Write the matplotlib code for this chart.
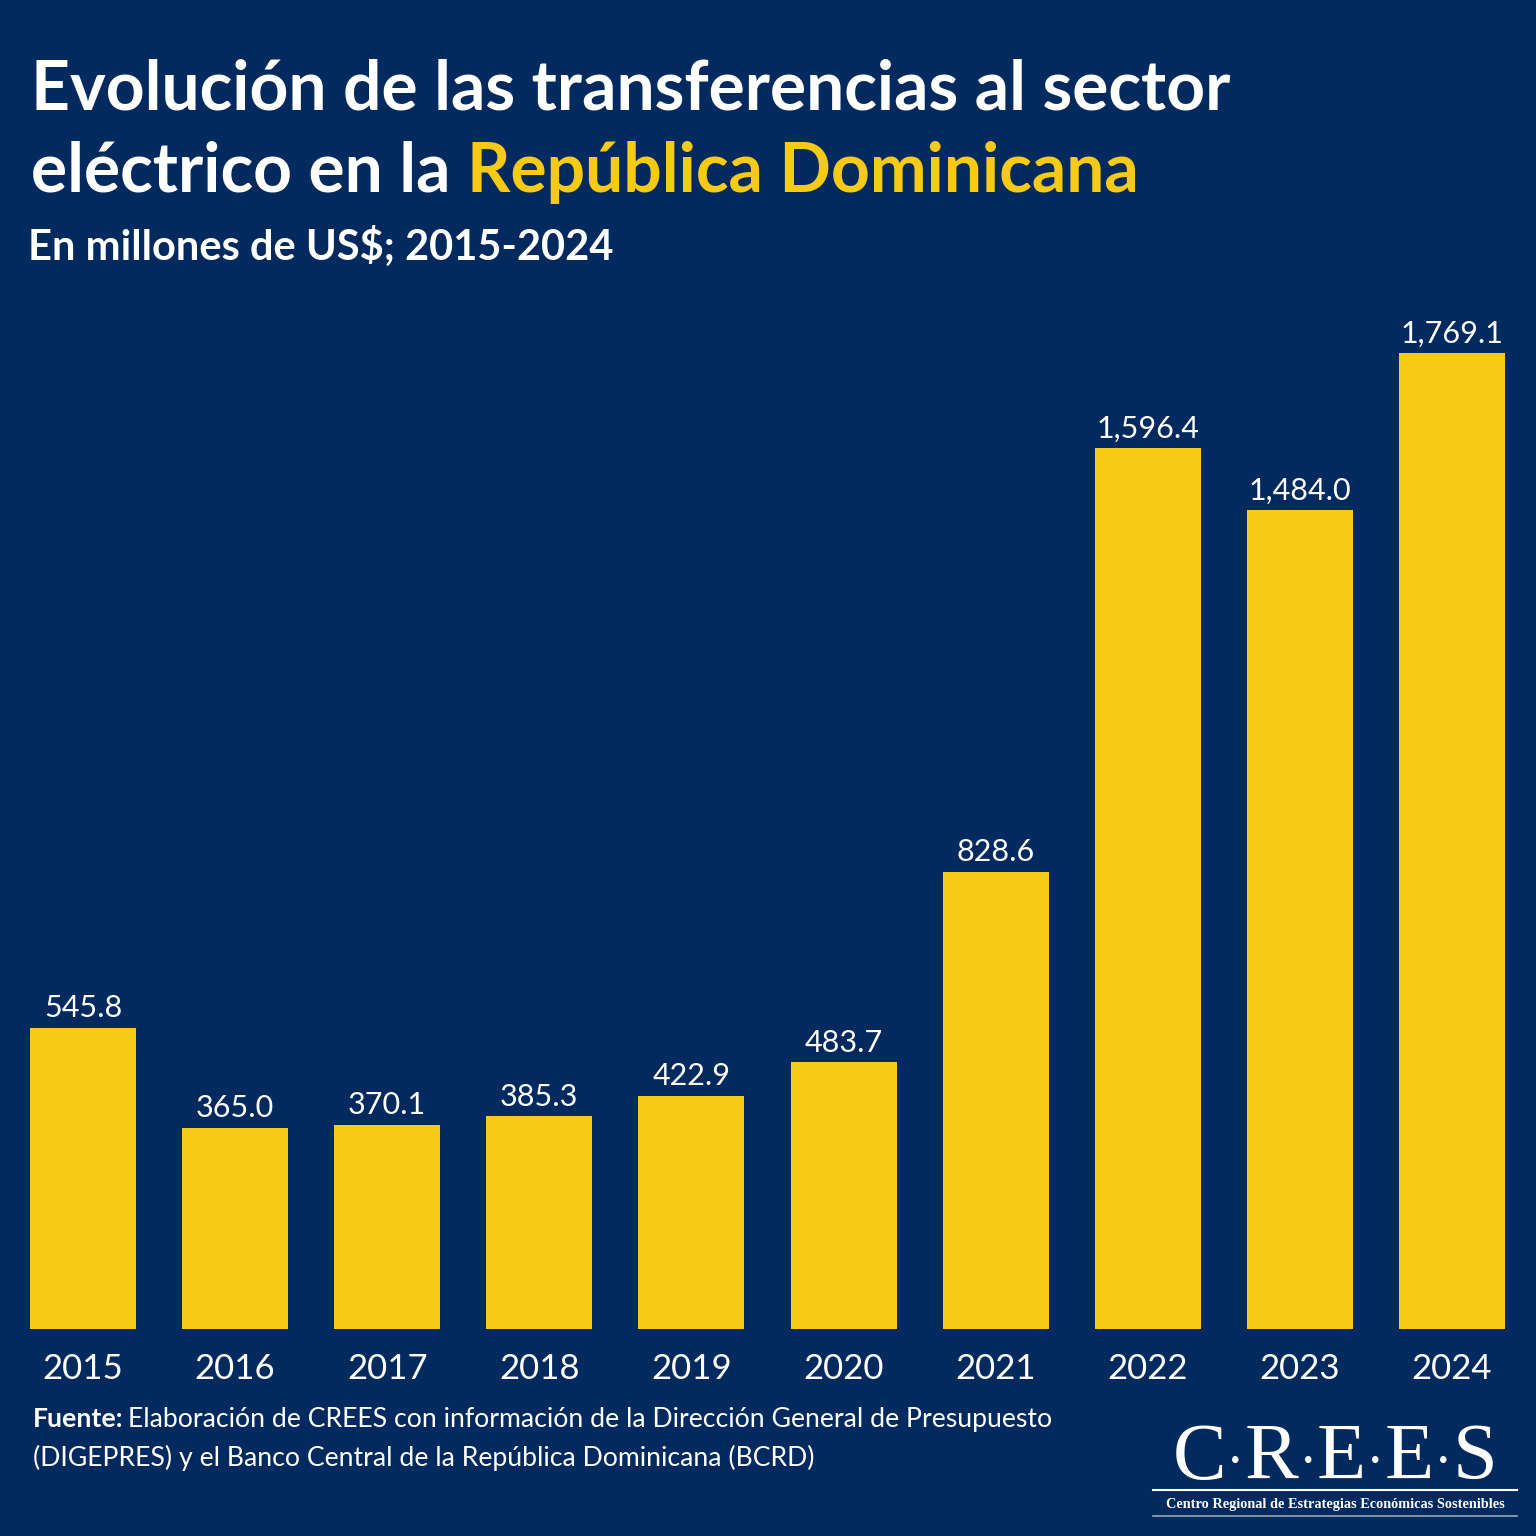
import matplotlib
matplotlib.use("Agg")
import matplotlib.pyplot as plt

plt.rcParams['font.family'] = ['Lato', 'DejaVu Sans']

# data
years = ['2015', '2016', '2017', '2018', '2019', '2020', '2021', '2022', '2023', '2024']
values = [545.8, 365.0, 370.1, 385.3, 422.9, 483.7, 828.6, 1596.4, 1484.0, 1769.1]

bg = '#032a5e'
yellow = '#f7ca18'
W = H = 1536
serif = ['Liberation Serif', 'DejaVu Serif']


def fx(px):
    return px / W


def fy(py):
    return 1 - py / H


fig = plt.figure(figsize=(15.36, 15.36), dpi=100, facecolor=bg)

# axes: bar area from x=30..1505 px, baseline at y=1329 px
ax = fig.add_axes([fx(30), fy(1329), fx(1505 - 30), (1329 - 300) / H])
ax.set_facecolor(bg)
bw = 0.697
x = list(range(len(years)))
ax.bar(x, values, width=bw, color=yellow, zorder=2)
ax.set_xlim(-bw / 2, len(years) - 1 + bw / 2)
ax.set_ylim(0, 1865)
for xi, v in zip(x, values):
    ax.annotate(f'{v:,.1f}', (xi, v), xytext=(0, 4), textcoords='offset points',
                ha='center', va='bottom', color='white', fontsize=22)
ax.set_xticks(x)
ax.set_xticklabels(years, fontsize=25, color='white')
ax.tick_params(axis='x', length=0, pad=17)
ax.set_yticks([])
for s in ax.spines.values():
    s.set_visible(False)

# title
fig.text(fx(31), fy(110), 'Evolución de las transferencias al sector', color='white',
         fontsize=48.8, fontweight='bold', ha='left', va='baseline')
t1 = fig.text(fx(31), fy(192), 'eléctrico en la ', color='white',
              fontsize=48.8, fontweight='bold', ha='left', va='baseline')
fig.canvas.draw()
bb = t1.get_window_extent()
fig.text(bb.x1 / W, fy(192), 'República Dominicana', color=yellow,
         fontsize=48.8, fontweight='bold', ha='left', va='baseline')
fig.text(fx(28), fy(260), 'En millones de US\\$; 2015-2024', color='white',
         fontsize=30, fontweight='bold', ha='left', va='baseline')

# source
s1 = fig.text(fx(33), fy(1427), 'Fuente:', color='white', fontsize=19.2,
              fontweight='bold', ha='left', va='baseline')
fig.canvas.draw()
bb = s1.get_window_extent()
fig.text(bb.x1 / W + fx(5), fy(1427),
         'Elaboración de CREES con información de la Dirección General de Presupuesto',
         color='white', fontsize=19.2, ha='left', va='baseline')
fig.text(fx(33), fy(1466),
         '(DIGEPRES) y el Banco Central de la República Dominicana (BCRD)',
         color='white', fontsize=19.2, ha='left', va='baseline')

# logo: letters with small dots between, placed one after another
pieces = ['C', '·', 'R', '·', 'E', '·', 'E', '·', 'S']
items = []
for p in pieces:
    size = 58 if p != '·' else 40
    t = fig.text(0, fy(1479), p, color='white', fontsize=size, family=serif,
                 ha='left', va='baseline')
    items.append(t)
fig.canvas.draw()
widths = [t.get_window_extent().width for t in items]
cur = 1335 - sum(widths) / 2
for t, w in zip(items, widths):
    t.set_x(fx(cur))
    cur += w

fig.add_artist(plt.Line2D([fx(1153), fx(1517)], [fy(1490), fy(1490)],
                          color='white', lw=1.5))
fig.text(fx(1335), fy(1508), 'Centro Regional de Estrategias Económicas Sostenibles',
         color='white', fontsize=10.3, fontweight='bold', family=serif,
         ha='center', va='baseline')
fig.add_artist(plt.Line2D([fx(1153), fx(1517)], [fy(1516), fy(1516)],
                          color='#9aa6bb', lw=1.2))

fig.savefig('out.png', dpi=100, facecolor=bg)
